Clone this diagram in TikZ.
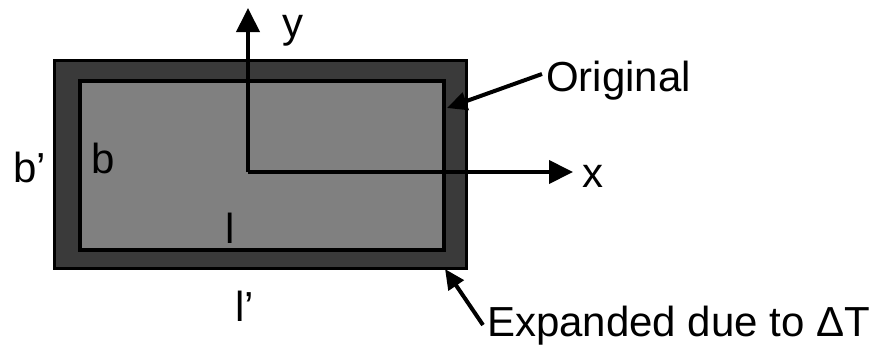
\documentclass[tikz,border=0pt]{standalone}
\usepackage{fontspec}
\setmainfont{Liberation Sans}
\usetikzlibrary{arrows.meta}
\begin{document}
\begin{tikzpicture}[x=1pt,y=-1pt,
  lbl/.style={font=\fontsize{42}{42}\selectfont, inner sep=0pt},
  axis/.style={line width=4pt, -{Triangle[length=24pt,width=23pt]}},
  pointer/.style={line width=4pt, -{Triangle[length=20pt,width=18pt]}}]
\useasboundingbox (0,0) rectangle (889,349);
% expanded plate
\draw[line width=3pt, fill={rgb,255:red,58;green,58;blue,58}] (54,60) rectangle (466,268);
% original plate
\draw[line width=4pt, fill={rgb,255:red,128;green,128;blue,128}] (80,81) rectangle (444,250);
% axes
\coordinate (o) at (248,172);
\coordinate (ytip) at (248,8);
\coordinate (xtip) at (573,172);
\draw[axis] (o) -- (ytip);
\draw[axis] (o) -- (xtip);
\node[lbl, anchor=base west] (ylab) at (282,37) {y};
\node[lbl, anchor=base west] (xlab) at (582,187) {x};
% labels
\node[lbl, anchor=base west] (orig) at (546,91) {Original};
\node[lbl, anchor=base west] (exp) at (487,336) {Expanded due to ΔT};
\node[lbl, anchor=base west] (bp) at (13,182) {b’};
\node[lbl, anchor=base west] (b) at (91,173) {b};
\node[lbl, anchor=base] (l) at (230,243) {l};
\node[lbl, anchor=base west] (lp) at (235,321) {l’};
% pointers
\coordinate (origtip) at (447,108);
\coordinate (exptip) at (445,269);
\draw[pointer] (orig.west |- 0,74) ++(-4,0) -- (origtip);
\draw[pointer] (exp.west |- 0,325) ++(-4,0) -- (exptip);
\end{tikzpicture}
\end{document}
